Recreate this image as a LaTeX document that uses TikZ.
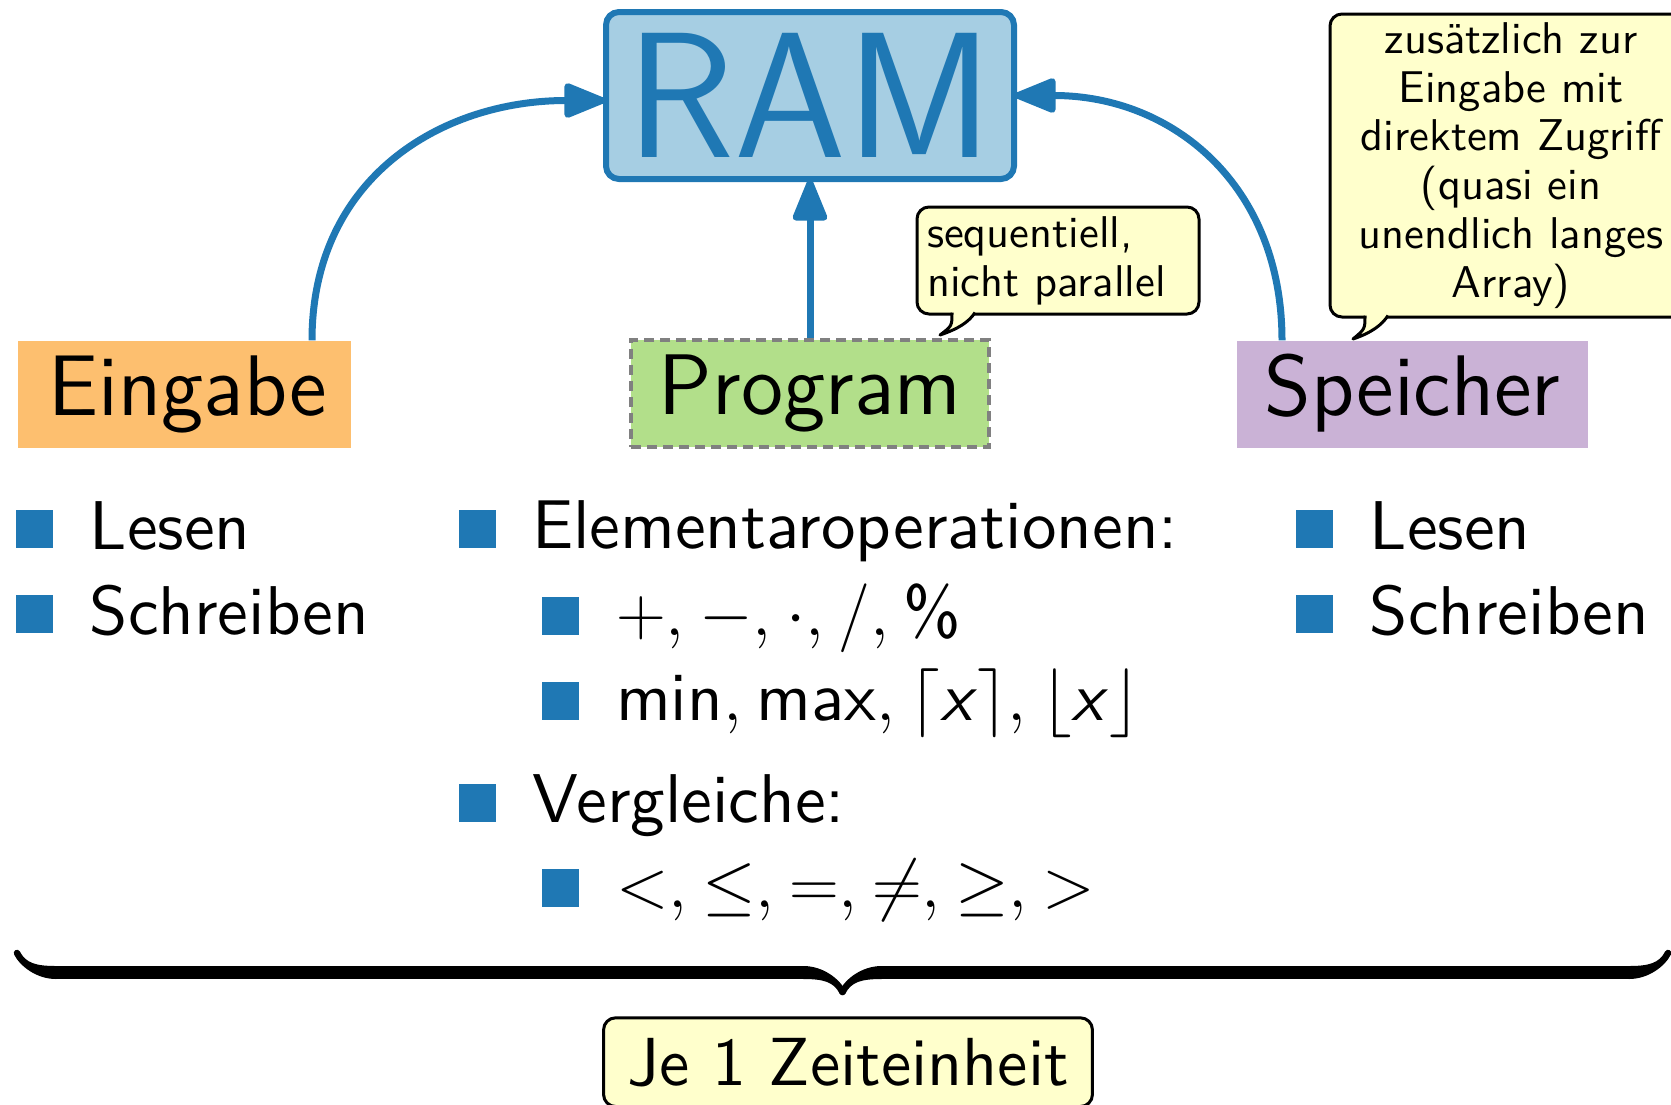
\RequirePackage{fix-cm}
\documentclass[tikz,border=0pt]{standalone}
\usepackage{fontspec}
\newfontfamily\bodyfont{lmsans10-regular.otf}[ItalicFont=lmsans10-oblique.otf]
\newfontfamily\boxfont{lmsans12-regular.otf}
\newfontfamily\ramfont{lmsans17-regular.otf}
\usetikzlibrary{arrows.meta,decorations.pathreplacing,calligraphy}
\definecolor{ramfill}{HTML}{A6CEE3}
\definecolor{blu}{HTML}{1F78B4}
\definecolor{orng}{HTML}{FDBF6F}
\definecolor{grn}{HTML}{B2DF8A}
\definecolor{purp}{HTML}{CAB2D6}
\definecolor{notefill}{HTML}{FFFFCC}
\definecolor{dashgray}{HTML}{808080}
\newcommand{\mcomma}{,\mskip0.8mu}
\begin{document}
\begin{tikzpicture}[x=1pt,y=1pt,
  bodytext/.style={font=\bodyfont\fontsize{69pt}{83pt}\selectfont, inner sep=0pt, anchor=base west},
  bulletsq/.style={fill=blu, minimum width=37pt, minimum height=38pt, inner sep=0pt, anchor=south west},
  compbox/.style={font=\boxfont\fontsize{86pt}{104pt}\selectfont, minimum height=107pt, text height=60pt, text depth=17pt, inner sep=0pt},
  notebox/.style={draw=black, line width=3pt, fill=notefill, rounded corners=12pt, font=\bodyfont\fontsize{44.5pt}{48.8pt}\selectfont},
  flow/.style={draw=blu, line width=7pt, -{Triangle[length=47pt,width=36pt,round]}, shorten >=-2pt},
]
\useasboundingbox (0,0) rectangle (1671,-1104);

% RAM
\node[draw=blu, line width=6pt, fill=ramfill, rounded corners=13pt, minimum width=408pt, minimum height=167pt, inner sep=0pt, text=blu, font=\ramfont\fontsize{179pt}{200pt}\selectfont] (ram) at (810,-95.5) {RAM};

% components
\node[compbox, fill=orng, minimum width=333pt] (eingabe) at (184.5,-394) {\hspace*{7pt}Eingabe};
\node[compbox, fill=grn, draw=dashgray, line width=4pt, dash pattern=on 10pt off 6pt, minimum width=358.5pt, minimum height=106.5pt] (program) at (810,-393.25) {Program};
\node[compbox, fill=purp, minimum width=351pt] (speicher) at (1412.5,-394) {Speicher};

% arrows
\draw[flow] ([xshift=127.5pt]eingabe.north) to[out=90,in=180,looseness=1.1] ([yshift=-5pt]ram.west);
\draw[flow] (program.north) -- (ram.south);
\draw[flow] ([xshift=-130.5pt]speicher.north) to[out=90,in=0,looseness=1.1] (ram.east);

% callouts
\node[notebox, anchor=north west, text width=262pt, align=left, inner xsep=10pt, inner ysep=0pt, minimum height=107pt] (seq) at (915.5,-205.5) {sequentiell,\\ nicht parallel};
\fill[notefill] (952,-309) -- (952,-312.5) .. controls (952,-326) .. (940,-335) .. controls (958,-329) and (969,-322) .. (975,-312.5) -- (975,-309) -- cycle;
\draw[line width=3pt, line join=round] (952,-312.5) .. controls (952,-326) .. (940,-335) .. controls (958,-329) and (969,-322) .. (975,-312.5);

\node[notebox, anchor=north west, text width=340pt, align=center, inner xsep=11pt, inner ysep=0pt, minimum height=303pt] (zus) at (1328.5,-12.5) {zusätzlich zur\\ Eingabe mit\\ direktem Zugriff\\ (quasi ein\\ unendlich langes\\ Array)};
\fill[notefill] (1365,-312) -- (1365,-315.5) .. controls (1365,-329) .. (1353,-339) .. controls (1371,-333) and (1382,-325) .. (1388,-315.5) -- (1388,-312) -- cycle;
\draw[line width=3pt, line join=round] (1365,-315.5) .. controls (1365,-329) .. (1353,-339) .. controls (1371,-333) and (1382,-325) .. (1388,-315.5);

% left list
\node[bulletsq] (lb1) at (16,-548.5) {};
\node[bodytext] (lt1) at (89.5,-549) {Lesen};
\node[bulletsq] (lb2) at (16,-633.5) {};
\node[bodytext] (lt2) at (89.5,-634) {Schreiben};

% middle list
\node[bulletsq] (mb1) at (459,-548) {};
\node[bodytext] (mt1) at (532,-548) {Elementaroperationen:};
\node[bulletsq] (mb2) at (542,-635) {};
\node[bodytext] (mt2) at (616,-635) {$+\mcomma-\mcomma\cdot\mcomma/\mcomma\mbox{\%}$};
\node[bulletsq] (mb3) at (542,-720) {};
\node[bodytext] (mt3) at (616,-720) {$\mbox{min}\mcomma\mbox{max}\mcomma\lceil\mbox{\itshape x\/}\rceil\mcomma\lfloor\mbox{\itshape x\/}\rfloor$};
\node[bulletsq] (mb4) at (459,-822) {};
\node[bodytext] (mt4) at (532,-822) {Vergleiche:};
\node[bulletsq] (mb5) at (542,-907) {};
\node[bodytext] (mt5) at (616,-907) {$<\mcomma\leq\mcomma=\mcomma\neq\mcomma\geq\mcomma>$};

% right list
\node[bulletsq] (rb1) at (1296,-548.5) {};
\node[bodytext] (rt1) at (1369.5,-549) {Lesen};
\node[bulletsq] (rb2) at (1296,-633.5) {};
\node[bodytext] (rt2) at (1369.5,-634) {Schreiben};

% brace
\coordinate (brR) at (1668,-953);
\coordinate (brL) at (17,-953);
\draw[decorate, decoration={calligraphic brace, amplitude=39pt}, line width=13pt] (brR) -- (brL);

\node[draw=black, line width=3pt, fill=notefill, rounded corners=12pt, inner xsep=23.5pt, inner ysep=20pt, anchor=base, font=\bodyfont\fontsize{68pt}{80pt}\selectfont] (zeit) at (848,-1085) {Je 1 Zeiteinheit};
\end{tikzpicture}
\end{document}
